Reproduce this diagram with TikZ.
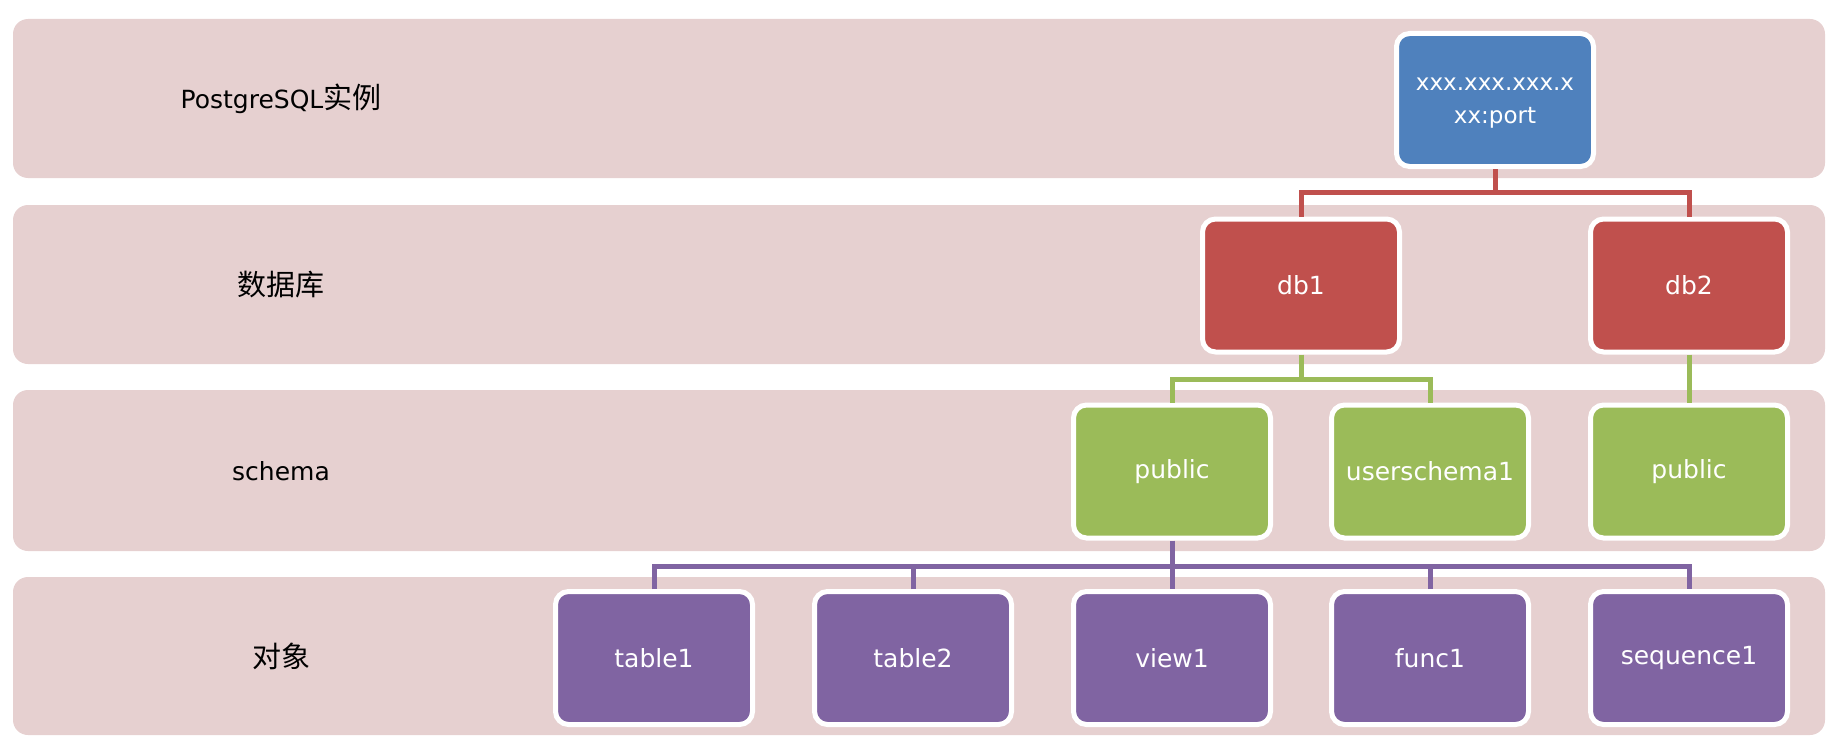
\documentclass[tikz,border=0pt]{standalone}
\usepackage{fontspec}
\setmainfont{DejaVu Sans}
\newfontfamily\cjk{Noto Sans CJK SC}
\definecolor{bandc}{RGB}{230,208,208}
\definecolor{cblue}{RGB}{79,129,189}
\definecolor{cred}{RGB}{192,80,77}
\definecolor{cgreen}{RGB}{155,187,89}
\definecolor{cpurple}{RGB}{128,100,162}
\tikzset{
  bandst/.style={fill=bandc, rounded corners=15pt},
  boxst/.style={draw=white, line width=5pt, rounded corners=13pt, minimum width=197pt,
    minimum height=133pt, text=white, font=\fontsize{25}{35}\selectfont, align=center, inner sep=0pt},
  lbl/.style={font=\fontsize{25}{30}\selectfont, text=black, inner sep=0pt},
  conn/.style={line width=5pt, line join=miter},
}
\begin{document}
\begin{tikzpicture}[x=1pt, y=-1pt]
\useasboundingbox (0,0) rectangle (1836,749);
% bands
\fill[bandst] (13,19) rectangle (1825,178);
\fill[bandst] (13,205) rectangle (1825,364);
\fill[bandst] (13,390) rectangle (1825,551);
\fill[bandst] (13,577) rectangle (1825,735);
% band labels
\node[lbl] (l1) at (281,99) {PostgreSQL{\cjk\fontsize{29}{30}\selectfont 实例}};
\node[lbl] (l2) at (281,285) {\cjk\fontsize{29}{30}\selectfont 数据库};
\node[lbl] (l3) at (281,471) {schema};
\node[lbl] (l4) at (281,656) {\cjk\fontsize{29}{30}\selectfont 对象};
% boxes
\node[boxst, fill=cblue, font=\fontsize{23}{33}\selectfont] (inst) at (1495,100)
  {\raisebox{-6pt}{\begin{tabular}{@{}c@{}}xxx.xxx.xxx.x\\xx:port\end{tabular}}};
\node[boxst, fill=cred] (db1) at (1301,285.5) {db1};
\node[boxst, fill=cred] (db2) at (1689,285.5) {db2};
\node[boxst, fill=cgreen] (s1) at (1172,471.5) {public};
\node[boxst, fill=cgreen] (s2) at (1430,471.5) {userschema1};
\node[boxst, fill=cgreen] (s3) at (1689,471.5) {public};
\node[boxst, fill=cpurple] (o1) at (654,658) {table1};
\node[boxst, fill=cpurple] (o2) at (913,658) {table2};
\node[boxst, fill=cpurple] (o3) at (1172,658) {view1};
\node[boxst, fill=cpurple] (o4) at (1430,658) {func1};
\node[boxst, fill=cpurple] (o5) at (1689,658) {sequence1};
% connectors
\coordinate (rbus) at (1495,192);
\coordinate (gbus) at (1301,379);
\coordinate (pbus) at (1172,566);
\draw[conn, cred] (inst.south) -- (rbus);
\draw[conn, cred] (db1.north) |- (rbus) -| (db2.north);
\draw[conn, cgreen] (db1.south) -- (gbus);
\draw[conn, cgreen] (s1.north) |- (gbus) -| (s2.north);
\draw[conn, cgreen] (db2.south) -- (s3.north);
\draw[conn, cpurple] (s1.south) -- (o3.north);
\draw[conn, cpurple] (o1.north) |- (pbus) -| (o5.north);
\draw[conn, cpurple] (o2.north) -- (o2.north |- pbus);
\draw[conn, cpurple] (o4.north) -- (o4.north |- pbus);
\end{tikzpicture}
\end{document}
